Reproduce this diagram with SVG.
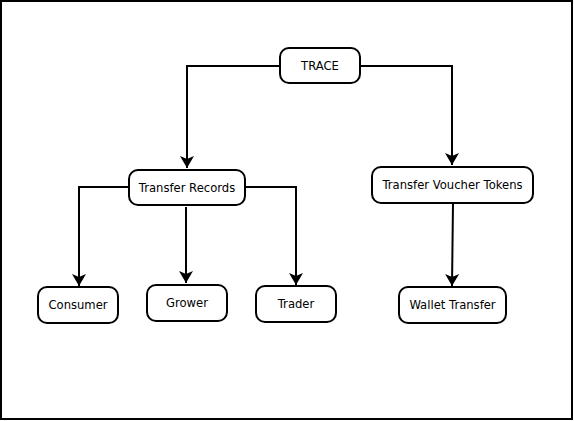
<svg xmlns="http://www.w3.org/2000/svg" width="574" height="421" viewBox="0 0 574 421">
<style>
.node rect{fill:#fff;stroke:#000;stroke-width:2}
.node text{font-family:"DejaVu Sans",Verdana,sans-serif;font-size:11.6px;fill:#000;text-anchor:middle;dominant-baseline:central}
#connectors path{fill:none;stroke:#000;stroke-width:2}
</style>
<defs>
<marker id="arr" markerUnits="userSpaceOnUse" markerWidth="16" markerHeight="16" viewBox="0 0 16 16" refX="13" refY="8" orient="auto">
<path d="M1,1 L13,8 L1,15 L4,8 Z" fill="#000"/>
</marker>
</defs>
<rect x="1" y="1" width="571" height="418" fill="#fff" stroke="#000" stroke-width="2"/>
<g id="connectors">
<path d="M280,66 H187 V168" marker-end="url(#arr)"/>
<path d="M360,66 H452 V165" marker-end="url(#arr)"/>
<path d="M129,187 H79 V286" marker-end="url(#arr)"/>
<path d="M186,207 V283" marker-end="url(#arr)"/>
<path d="M245,187 H296 V285" marker-end="url(#arr)"/>
<path d="M453,203 L452,286" marker-end="url(#arr)"/>
</g>
<g id="trace" class="node"><rect x="280" y="48" width="80" height="35" rx="9"/><text x="320" y="66">TRACE</text></g>
<g id="transfer-records" class="node"><rect x="129" y="170" width="116" height="35" rx="9"/><text x="187" y="188">Transfer Records</text></g>
<g id="transfer-voucher-tokens" class="node"><rect x="372" y="167" width="161" height="36" rx="9"/><text x="452.5" y="185">Transfer Voucher Tokens</text></g>
<g id="consumer" class="node"><rect x="38" y="287" width="80" height="36" rx="9"/><text x="78" y="305">Consumer</text></g>
<g id="grower" class="node"><rect x="147" y="285" width="80" height="36" rx="9"/><text x="187" y="303">Grower</text></g>
<g id="trader" class="node"><rect x="256" y="286" width="80" height="36" rx="9"/><text x="296" y="304">Trader</text></g>
<g id="wallet-transfer" class="node"><rect x="399" y="287" width="107" height="36" rx="9"/><text x="452.5" y="305">Wallet Transfer</text></g>
</svg>
